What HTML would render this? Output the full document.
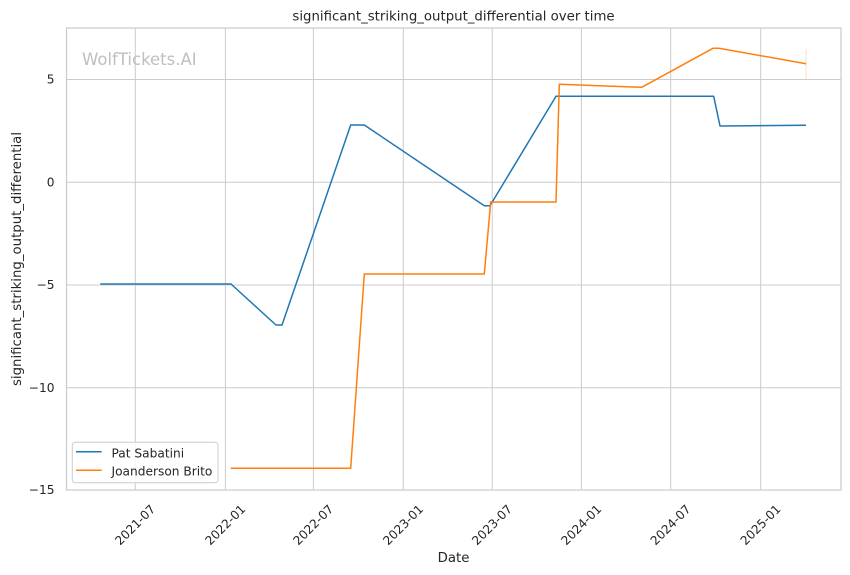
<!DOCTYPE html>
<html>
<head>
<meta charset="utf-8">
<style>
  html, body { margin: 0; padding: 0; background: #ffffff; }
  svg { display: block; }
  text { font-family: "DejaVu Sans", "Liberation Sans", sans-serif; fill: #262626; }
</style>
</head>
<body>
<svg width="850" height="575" viewBox="0 0 850 575" xmlns="http://www.w3.org/2000/svg">
  <rect x="0" y="0" width="850" height="575" fill="#ffffff"/>

  <!-- grid -->
  <g stroke="#cccccc" stroke-width="1">
    <line x1="135.3" y1="28" x2="135.3" y2="490"/>
    <line x1="225.4" y1="28" x2="225.4" y2="490"/>
    <line x1="313.4" y1="28" x2="313.4" y2="490"/>
    <line x1="403.3" y1="28" x2="403.3" y2="490"/>
    <line x1="492.2" y1="28" x2="492.2" y2="490"/>
    <line x1="581.4" y1="28" x2="581.4" y2="490"/>
    <line x1="670.7" y1="28" x2="670.7" y2="490"/>
    <line x1="760.7" y1="28" x2="760.7" y2="490"/>
    <line x1="66.5" y1="79.5" x2="841" y2="79.5"/>
    <line x1="66.5" y1="182.3" x2="841" y2="182.3"/>
    <line x1="66.5" y1="285" x2="841" y2="285"/>
    <line x1="66.5" y1="387.8" x2="841" y2="387.8"/>
  </g>

  <!-- spines -->
  <rect x="66.5" y="28" width="774.5" height="462" fill="none" stroke="#cccccc" stroke-width="1.25"/>

  <!-- watermark -->
  <text x="82" y="65" font-size="16.5" style="fill:#bfbfbf">WolfTickets.AI</text>

  <!-- series -->
  <polyline fill="none" stroke="#1f77b4" stroke-width="1.5" stroke-linejoin="round"
    points="100.3,284 231,284 276,325 282,325 350.7,125 364.3,125 484.3,205.7 490,205.7 556,96.3 713.7,96.3 720,126 806,125.3"/>
  <line x1="806" y1="49" x2="806" y2="79" stroke="#ff7f0e" stroke-opacity="0.25" stroke-width="1"/>
  <polyline fill="none" stroke="#ff7f0e" stroke-width="1.5" stroke-linejoin="round"
    points="230.7,468.3 350.7,468.3 364.3,274 484.3,274 490.7,202 556,202 559.3,84.3 641.7,87.3 713,48.3 719,48.3 806,63.7"/>

  <!-- y tick labels -->
  <g font-size="12.2" text-anchor="end" dominant-baseline="central">
    <text x="54.5" y="79.5">5</text>
    <text x="54.5" y="182.3">0</text>
    <text x="54.5" y="285">−5</text>
    <text x="54.5" y="387.8">−10</text>
    <text x="54.5" y="490">−15</text>
  </g>

  <!-- x tick labels -->
  <g font-size="12.2" text-anchor="middle" dominant-baseline="central">
    <text x="135.3" y="525" transform="rotate(-45 135.3 525)">2021-07</text>
    <text x="225.4" y="525" transform="rotate(-45 225.4 525)">2022-01</text>
    <text x="313.4" y="525" transform="rotate(-45 313.4 525)">2022-07</text>
    <text x="403.3" y="525" transform="rotate(-45 403.3 525)">2023-01</text>
    <text x="492.2" y="525" transform="rotate(-45 492.2 525)">2023-07</text>
    <text x="581.4" y="525" transform="rotate(-45 581.4 525)">2024-01</text>
    <text x="670.7" y="525" transform="rotate(-45 670.7 525)">2024-07</text>
    <text x="760.7" y="525" transform="rotate(-45 760.7 525)">2025-01</text>
  </g>

  <!-- title & axis labels -->
  <text x="453.5" y="20.5" font-size="13.3" text-anchor="middle">significant_striking_output_differential over time</text>
  <text x="453.5" y="562" font-size="13.3" text-anchor="middle">Date</text>
  <text x="21" y="259" font-size="13.3" text-anchor="middle" transform="rotate(-90 21 259)">significant_striking_output_differential</text>

  <!-- legend -->
  <rect x="72.3" y="442.3" width="145.7" height="40.4" rx="3" ry="3" fill="#ffffff" fill-opacity="0.8" stroke="#cccccc" stroke-width="1"/>
  <line x1="76" y1="451.7" x2="101.7" y2="451.7" stroke="#1f77b4" stroke-width="1.5"/>
  <line x1="76" y1="470.3" x2="101.7" y2="470.3" stroke="#ff7f0e" stroke-width="1.5"/>
  <text x="111.5" y="457.5" font-size="12.2">Pat Sabatini</text>
  <text x="111.5" y="475.7" font-size="12.2">Joanderson Brito</text>
</svg>
</body>
</html>
